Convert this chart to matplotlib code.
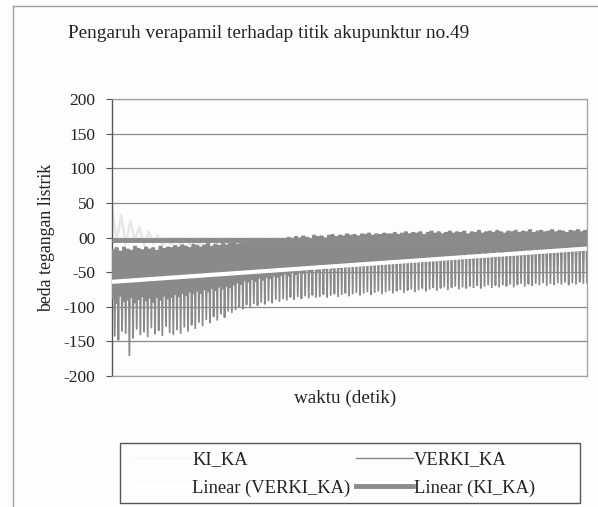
import numpy as np
import matplotlib
matplotlib.use('Agg')
import matplotlib.pyplot as plt
from matplotlib.lines import Line2D
from matplotlib.patches import Rectangle

plt.rcParams['font.family'] = ['Liberation Serif', 'DejaVu Serif']

# VERKI_KA: per oscillation cycle, the peak, the shoulder and the trough
verki_hi = [-18, -15, -20, -14, -17, -19, -13, -16, -18, -14, -17, -15, -19, -13, -16, -14,
            -15, -12, -14, -11, -13, -15, -10, -12, -14, -11, -9, -13, -10, -12, -8, -11, -9,
            -8, -10, -6, -9, -5, -7, -8, -4, -6, -3, -5, -2, -4, -3,
            -2, 0, -3, 1, -1, 2, 0, -2, 3, 1, 2, -1, 3, 4, 1, 3, 2, 5, 3, 4, 2, 5, 4, 6, 3, 5, 4, 6, 5,
            5, 7, 4, 6, 8, 5, 7, 6, 8, 4, 7, 9, 6, 8, 5, 7, 9, 6, 8, 7, 9, 5, 8, 7, 10, 6, 8, 9, 7, 10,
            8, 6, 9, 8, 10, 7, 9, 8, 11, 7, 9, 10, 8, 9, 11, 8, 10, 9, 7, 10, 9, 11, 8, 10]
verki_mid = [-88, -95, -84, -92, -90, -86, -94, -89, -85, -91, -87, -93, -86, -90, -84, -88,
             -86, -82, -85, -80, -83, -78, -81, -77, -80, -75, -78, -73, -76, -71, -74, -70, -72,
             -68, -65, -67, -62, -64, -60, -63, -58, -61, -57, -59, -55, -57, -54,
             -52, -55, -50, -53, -48, -51, -47, -49, -45, -48, -44, -46, -43, -45, -41, -44, -40,
             -42, -39, -41, -38, -40, -37, -39, -36, -38, -35, -37, -34,
             -36, -33, -35, -32, -34, -31, -33, -30, -32, -29, -31, -28, -30, -27, -29, -26, -28,
             -25, -27, -24, -26, -23, -25, -22, -24, -21, -23, -20, -22, -19, -21, -20, -22, -19,
             -21, -18, -20, -17, -19, -16, -18, -17, -19, -16, -18, -15, -17, -16, -18, -15, -17,
             -14, -16, -15]
verki_lo = [-142, -148, -135, -138, -170, -145, -132, -140, -136, -143, -130, -139, -134, -141, -128, -137,
            -140, -133, -138, -129, -135, -126, -131, -122, -127, -118, -123, -114, -119, -110, -115, -106, -108,
            -104, -100, -103, -97, -101, -95, -98, -93, -96, -91, -94, -89, -92, -88,
            -90, -86, -89, -85, -88, -84, -87, -83, -86, -85, -82, -86, -83, -81, -85, -82, -80,
            -84, -81, -79, -83, -80, -78, -82, -79, -77, -81, -78, -76,
            -80, -77, -75, -79, -76, -74, -78, -75, -73, -77, -74, -72, -76, -73, -71, -75, -72,
            -70, -74, -71, -73, -70, -72, -69, -73, -70, -68, -72, -69, -71, -68, -70, -67, -71,
            -68, -66, -70, -67, -69, -66, -68, -65, -69, -66, -68, -65, -67, -64, -68, -65, -67,
            -64, -66, -65]

# KI_KA (light series, mostly hidden behind VERKI_KA), one value every 5 samples
ki_ka = [45, -6, 32, -10, 24, -4, 15, -11, 8, -9, 3, -12, -2, -10, -1, -11, -3, -9, -2, -12,
         -1, -10, -3, -11, -2, -9, -1, -12, -3, -10, -2, -11, -1, -9, -3, -10, -2, -12, -1, -10,
         -3, -11, -2, -9, -1, -10, -3, -12, -2, -11, -1, -9, -2, -10, -3, -11, -1, -12, -2, -10,
         -3, -9, -1, -11, -2, -10, -3, -12, -1, -10, -2, -11, -3, -9, -2, -10, -1, -12, -3, -11,
         -2, -10, -1, -9, -3, -11, -2, -12, -1, -10, -3, -11, -2, -9, -1, -10, -3, -12, -2, -11,
         -1, -10, -2, -9]
ki_step = 5

# trendline end values (start, end)
trend_verki = [-64, -16]
trend_ki = [-3, -3]

yticks = [-200, -150, -100, -50, 0, 50, 100, 150, 200]
ylabels = ['-200', '-150', '-100', '-50', '00', '50', '100', '150', '200']

verki = np.column_stack([verki_hi, verki_mid, verki_hi, verki_lo]).ravel()
x_verki = np.arange(len(verki))
x_ki = np.arange(len(ki_ka)) * ki_step
x_end = len(verki) - 1

W, H = 598, 507
fig = plt.figure(figsize=(W / 100, H / 100), dpi=100)
fig.patch.set_facecolor('#fdfdfd')
ax = fig.add_axes([112 / W, 1 - 376 / H, 475 / W, 277 / H])
ax.set_facecolor('#fdfdfd')

for v in yticks:
    ax.axhline(v, color='#8a8a8a', lw=0.9, zorder=1)

ax.plot(x_ki, ki_ka, color='#e6e6e6', lw=1.8, zorder=2)
ax.plot(x_verki, verki, color='#8a8a8a', lw=1.3, zorder=3)
ax.plot([0, x_end], trend_verki, color='white', lw=3.0, solid_capstyle='butt', zorder=4)
ax.plot([0, x_end], trend_ki, color='#8c8c8c', lw=3.5, solid_capstyle='butt', zorder=4)

ax.set_xlim(0, x_end)
ax.set_ylim(-200, 200)
ax.set_xticks([])
ax.set_yticks(yticks)
ax.set_yticklabels(ylabels, fontsize=12.5, color='#222222')
ax.tick_params(axis='y', direction='out', length=4, width=0.8, color='#555555', pad=8)
for side in ['top', 'right', 'bottom']:
    ax.spines[side].set_color('#a0a0a0')
    ax.spines[side].set_linewidth(0.9)
ax.spines['left'].set_color('#555555')
ax.spines['left'].set_linewidth(1.0)

ax.set_ylabel('beda tegangan listrik', fontsize=12.8, color='#222222', labelpad=6)
fig.text(345 / W, 1 - 398 / H, 'waktu (detik)', fontsize=13.8, color='#222222',
         ha='center', va='center')
fig.text(269 / W, 1 - 33 / H, 'Pengaruh verapamil terhadap titik akupunktur no.49',
         fontsize=13.9, color='#222222', ha='center', va='center')

# chart area border (left and top edges visible in the scan)
fig.add_artist(Line2D([13 / W, 13 / W], [0, 1 - 6 / H], color='#a0a0a0', lw=1.0))
fig.add_artist(Line2D([13 / W, 1], [1 - 6 / H, 1 - 6 / H], color='#a0a0a0', lw=1.0))

# legend box
fig.add_artist(Rectangle((120 / W, 1 - 503 / H), 460 / W, 60 / H, transform=fig.transFigure,
                         fill=False, edgecolor='#555555', lw=1.0))
handles = [Line2D([], [], color='#f4f4f4', lw=1.0),
           Line2D([], [], color='white', lw=3.0),
           Line2D([], [], color='#858585', lw=1.0),
           Line2D([], [], color='#8c8c8c', lw=3.5)]
labels = ['KI_KA', 'Linear (VERKI_KA)', 'VERKI_KA', 'Linear (KI_KA)']
fig.legend(handles, labels, ncol=2, frameon=False, loc='upper left',
           bbox_to_anchor=(134 / W, 1 - 451 / H), borderpad=0, borderaxespad=0,
           handlelength=3.1, handletextpad=0.05, columnspacing=0.3, labelspacing=0.62,
           prop={'size': 13.3}, labelcolor='#222222')

fig.savefig('out.png', dpi=100, facecolor=fig.get_facecolor())
